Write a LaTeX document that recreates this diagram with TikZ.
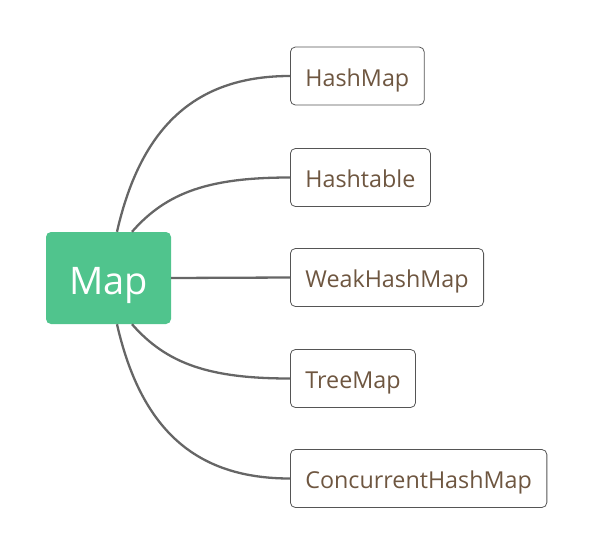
\documentclass[tikz,border=0pt]{standalone}
\usepackage{fontspec}
\setmainfont{Open Sans}
\usepackage{xcolor}
\usepackage{tikz}
\usetikzlibrary{positioning, calc}
\definecolor{MapGreen}{HTML}{50C48D}
\definecolor{LeafText}{HTML}{6E5640}
\definecolor{LeafLine}{HTML}{555555}
\definecolor{Branch}{HTML}{666666}

\begin{document}
\begin{tikzpicture}[x=1pt, y=-1pt,
  root/.style={fill=MapGreen, text=white, rounded corners=5pt, text height=33pt, text depth=0pt,
    minimum width=125pt, minimum height=92pt, font=\fontsize{38}{40}\selectfont},
  leaf/.style={draw=LeafLine, line width=0.8pt, rounded corners=5pt, text=LeafText,
    text height=20pt, text depth=0pt,
    minimum height=58pt, inner xsep=15pt, anchor=west, font=\fontsize{23.3}{26}\selectfont},
  branch/.style={draw=Branch, line width=2.3pt}]
  \useasboundingbox (0,0) rectangle (596,557);
  % root on the left
  \node[root] (map) at (108.5,278) {Map};
  % the five leaves, one under the other
  \node[leaf] (hashmap) at (290,76) {HashMap};
  \node[leaf] (hashtable) at (290,177.5) {Hashtable};
  \node[leaf] (weak) at (290,277.5) {WeakHashMap};
  \node[leaf] (tree) at (290,378.5) {TreeMap};
  \node[leaf] (conc) at (290,478.5) {ConcurrentHashMap};
  % branch roots on the top and bottom edges of the root
  \coordinate (t1) at ($(map.north)+(8.5,0)$);
  \coordinate (t2) at ($(map.north)+(23.5,0)$);
  \coordinate (b1) at ($(map.south)+(8.5,0)$);
  \coordinate (b2) at ($(map.south)+(23.5,0)$);
  % branches
  \draw[branch] (t1) .. controls ($(t1)+(25,-110)$) and ($(hashmap.west)+(-90,0)$) .. (hashmap.west);
  \draw[branch] (t2) .. controls ($(t2)+(35,-40)$) and ($(hashtable.west)+(-80,0)$) .. (hashtable.west);
  \draw[branch] (map.east) -- (weak.west);
  \draw[branch] (b2) .. controls ($(b2)+(35,40)$) and ($(tree.west)+(-80,0)$) .. (tree.west);
  \draw[branch] (b1) .. controls ($(b1)+(25,110)$) and ($(conc.west)+(-90,0)$) .. (conc.west);
\end{tikzpicture}
\end{document}
